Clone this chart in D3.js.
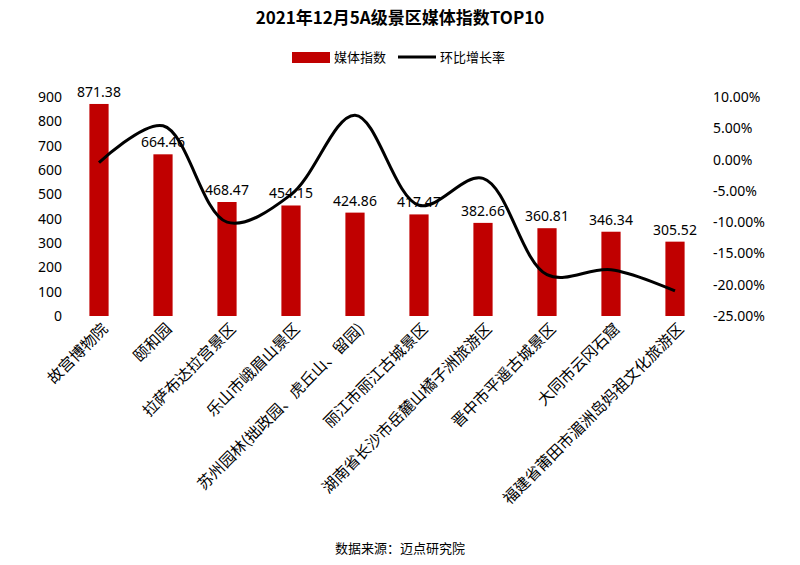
<!DOCTYPE html>
<html><head><meta charset="utf-8">
<script src="https://cdn.jsdelivr.net/npm/d3@7"></script>
<style>body{margin:0;background:#fff;font-family:"Noto Sans CJK SC","Noto Sans",sans-serif}</style>
</head><body><div id="chart"></div>
<script>
var names = ["故宫博物院","颐和园","拉萨布达拉宫景区","乐山市峨眉山景区","苏州园林(拙政园、虎丘山、留园)","丽江市丽江古城景区","湖南省长沙市岳麓山橘子洲旅游区","晋中市平遥古城景区","大同市云冈石窟","福建省莆田市湄洲岛妈祖文化旅游区"];
var index = [871.38,664.46,468.47,454.15,424.86,417.47,382.66,360.81,346.34,305.52];
var growth = [-0.5,5.4,-10,-5.6,7.1,-7.3,-3,-18.4,-17.6,-21];
var leftTicks = [0,100,200,300,400,500,600,700,800,900];
var rightTicks = [-25,-20,-15,-10,-5,0,5,10];

var width = 800, height = 565;
var svg = d3.select("#chart").append("svg").attr("width", width).attr("height", height);

var x = d3.scaleBand().domain(names).range([67, 707]).paddingInner(0.7).paddingOuter(0.35);
var y = d3.scaleLinear().domain([0, 900]).range([316, 97]);
var y2 = d3.scaleLinear().domain([-25, 10]).range([316, 97]);

svg.append("text").attr("x", 400).attr("y", 24).attr("text-anchor", "middle")
  .attr("font-size", 17).attr("font-weight", "bold").text("2021年12月5A级景区媒体指数TOP10");

// legend
svg.append("rect").attr("x", 292).attr("y", 52).attr("width", 38).attr("height", 11).attr("fill", "#c00000");
svg.append("text").attr("x", 334).attr("y", 62).attr("font-size", 13).text("媒体指数");
svg.append("line").attr("x1", 398).attr("x2", 436).attr("y1", 57).attr("y2", 57).attr("stroke", "#000").attr("stroke-width", 3);
svg.append("text").attr("x", 440).attr("y", 62).attr("font-size", 13).text("环比增长率");

var ax = svg.append("g").attr("transform", "translate(62,0)")
  .call(d3.axisLeft(y).tickValues(leftTicks).tickSize(0).tickPadding(0));
ax.select(".domain").remove();
ax.selectAll("text").attr("font-size", 14).attr("fill", "#000").attr("font-family", "Noto Sans");

var ax2 = svg.append("g").attr("transform", "translate(713,0)")
  .call(d3.axisRight(y2).tickValues(rightTicks).tickSize(0).tickPadding(0)
    .tickFormat(function(d){ return d.toFixed(2) + "%"; }));
ax2.select(".domain").remove();
ax2.selectAll("text").attr("font-size", 14).attr("fill", "#000").attr("font-family", "Noto Sans");

svg.selectAll(".bar").data(names).enter().append("rect")
  .attr("x", function(d){ return x(d); })
  .attr("y", function(d, i){ return y(index[i]); })
  .attr("width", x.bandwidth())
  .attr("height", function(d, i){ return y(0) - y(index[i]); })
  .attr("fill", "#c00000");

var line = d3.line()
  .x(function(d, i){ return x(names[i]) + x.bandwidth() / 2; })
  .y(function(d){ return y2(d); })
  .curve(d3.curveCatmullRom.alpha(0.5));
svg.append("path").datum(growth).attr("d", line)
  .attr("fill", "none").attr("stroke", "#000").attr("stroke-width", 3);

svg.selectAll(".val").data(names).enter().append("text")
  .attr("x", function(d){ return x(d) + x.bandwidth() / 2; })
  .attr("y", function(d, i){ return y(index[i]) - 7; })
  .attr("text-anchor", "middle").attr("font-size", 14).attr("font-family", "Noto Sans")
  .text(function(d, i){ return index[i].toFixed(2); });

svg.selectAll(".cat").data(names).enter().append("text")
  .attr("transform", function(d){ return "translate(" + (x(d) + x.bandwidth() / 2 + 6) + ",326) rotate(-45)"; })
  .attr("text-anchor", "end").attr("dy", "0.35em").attr("font-size", 15.5)
  .text(function(d){ return d; });

svg.append("text").attr("x", 400).attr("y", 553).attr("text-anchor", "middle")
  .attr("font-size", 13).text("数据来源：迈点研究院");
</script>
</body></html>
